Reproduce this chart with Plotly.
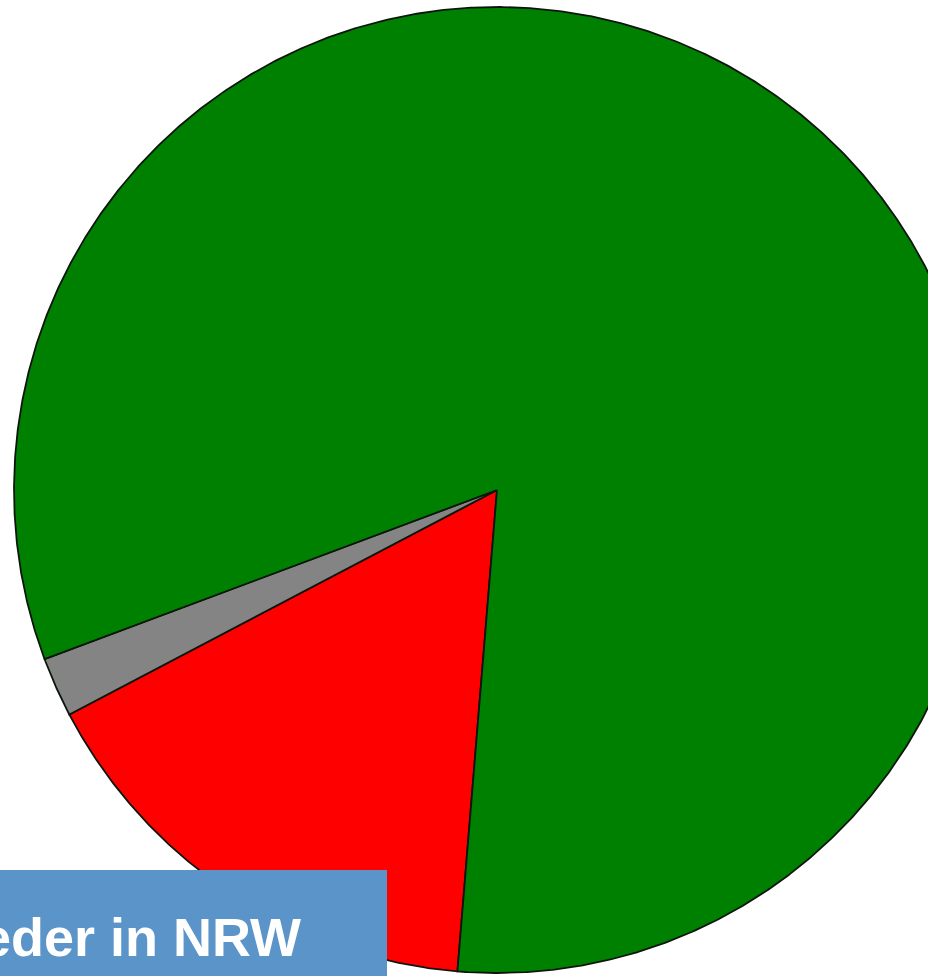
import numpy as np
import plotly.graph_objects as go

# Data (shares in percent), clockwise order starting at the rotation angle
labels = ["Nein", "Enthaltung", "Ja"]
values = [16.0, 2.0, 82.0]
colors = ["#FF0000", "#848484", "#008000"]
title_text = "Mitglieder in NRW"

ROTATION = 184.7  # bearing (deg, clockwise from 12 o'clock) where first slice starts

fig = go.Figure()

total = sum(values)
start = ROTATION
for lab, v, c in zip(labels, values, colors):
    span = 360.0 * v / total
    th = np.radians(np.linspace(start, start + span, max(int(span * 4), 8)))
    xs = np.concatenate([[0.0], np.sin(th), [0.0]])
    ys = np.concatenate([[0.0], np.cos(th), [0.0]])
    fig.add_trace(go.Scatter(
        x=xs, y=ys, mode="lines", fill="toself", fillcolor=c,
        line=dict(color="#0d160d", width=1.8), name=lab,
        hoverinfo="name", showlegend=False,
    ))
    start += span

R_PX = 483.0
W, H = 940, 976
PLOT_W = 928
CX, CY = 497.0, 490.0

fig.update_layout(
    width=W, height=H,
    margin=dict(l=0, r=W - PLOT_W, t=0, b=0),
    paper_bgcolor="white", plot_bgcolor="white",
    xaxis=dict(range=[-CX / R_PX, (PLOT_W - CX) / R_PX], visible=False, fixedrange=True),
    yaxis=dict(range=[-(H - CY) / R_PX, CY / R_PX], visible=False, fixedrange=True),
    shapes=[dict(
        type="rect", xref="paper", yref="paper", layer="above",
        x0=0, x1=387 / PLOT_W, y0=0, y1=(H - 870) / H,
        fillcolor="#5A94C9", line=dict(width=0),
    )],
    annotations=[dict(
        text="<b>" + title_text + "</b>", xref="paper", yref="paper",
        x=303 / PLOT_W, y=(H - 937) / H, xanchor="right", yanchor="middle",
        showarrow=False, font=dict(family="Liberation Sans, Arial", size=54, color="white"),
    )],
)

fig.write_html("out.html", config={"displayModeBar": False},
               post_script="document.body.style.margin='0';")
